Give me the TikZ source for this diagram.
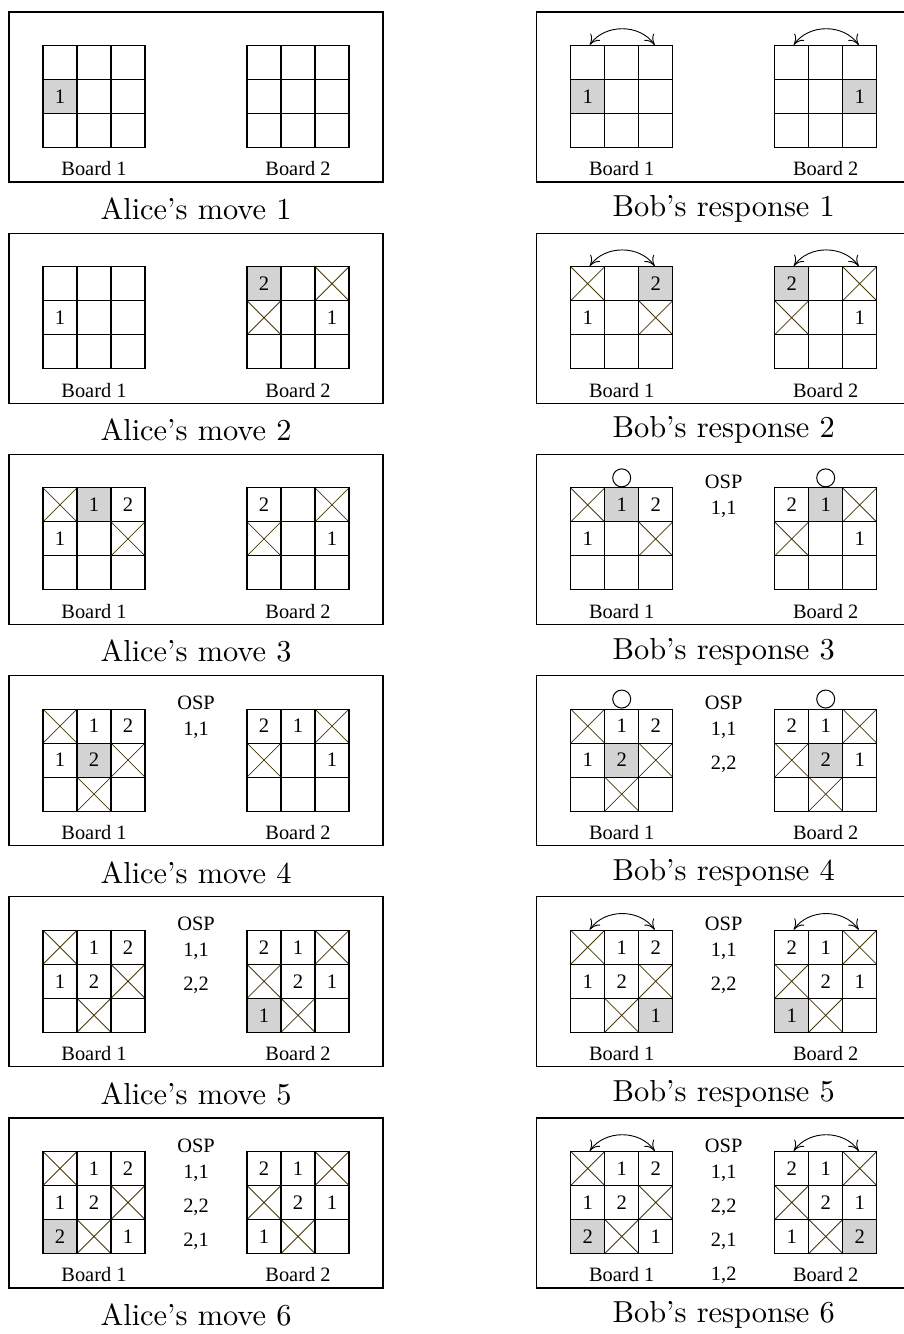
\documentclass[tikz,border=0pt]{standalone}
\usepackage{fontspec}
\setmainfont{Liberation Serif}
\newfontfamily\capfont{lmroman10-regular.otf}
\usetikzlibrary{arrows.meta}
\definecolor{shadegray}{RGB}{211,211,211}
\definecolor{xcol}{RGB}{70,56,8}
\expandafter\def\csname ctxt1\endcsname{1}
\expandafter\def\csname ctxt2\endcsname{2}
\expandafter\def\csname ctxtG1\endcsname{1}
\expandafter\def\csname ctxtG2\endcsname{2}
\tikzset{
  cellbox/.style={draw=black, line width=0.55pt, rectangle, minimum size=17pt, inner sep=0pt, font=\fontsize{10.3}{12}\selectfont},
  cE/.style={}, c1/.style={}, c2/.style={},
  cG1/.style={fill=shadegray}, cG2/.style={fill=shadegray},
  xline/.style={draw=xcol, line width=0.4pt},
  cX/.style={path picture={\draw[xline] (path picture bounding box.north west) -- (path picture bounding box.south east) (path picture bounding box.north east) -- (path picture bounding box.south west);}},
  framebox/.style={draw=black, line width=0.55pt},
  lbl/.style={font=\fontsize{10.2}{12}\selectfont, inner sep=0pt},
  captext/.style={font=\capfont\fontsize{15.2}{18}\selectfont, inner sep=0pt},
  swaparr/.style={line width=0.45pt, {To[length=5pt,width=6pt]}-{To[length=5pt,width=6pt]}},
  ring/.style={circle, draw=black, line width=0.5pt, minimum size=9pt, inner sep=0pt},
}
% board: #1 name, #2 left x, #3 top y, #4 cells
\newcommand{\brd}[4]{%
  \foreach \v [count=\i from 0] in {#4} {
    \pgfmathtruncatemacro\rr{\i/3}
    \pgfmathtruncatemacro\cc{mod(\i,3)}
    \node[cellbox, c\v] (#1-\i) at ({#2+17+34*\cc},{#3+17+34*\rr}) {\csname ctxt\v\endcsname};
  }
}
% panel: #1 id, #2 frame left, #3 frame top, #4 board1, #5 board2, #6 caption
\newcommand{\pnl}[6]{%
  \draw[framebox] (#2,#3) rectangle ++(374,170);
  \brd{#1a}{#2+34}{#3+33.5}{#4}
  \brd{#1b}{#2+238}{#3+33.5}{#5}
  \node[lbl] (#1-la) at (#2+85,#3+157) {Board 1};
  \node[lbl] (#1-lb) at (#2+289,#3+157) {Board 2};
  \node[captext] (#1-cap) at (#2+187,#3+197) {#6};
}
% OSP list: #1 id, #2 frame left, #3 frame top, #4 items
\newcommand{\osp}[4]{%
  \node[lbl] (#1-osp) at (#2+187,#3+27.5) {OSP};
  \foreach \p [count=\k from 0] in {#4} {
    \node[lbl] (#1-osp\k) at (#2+187,#3+55+34*\k) {\p};
  }
}
\newcommand{\swp}[1]{%
  \draw[swaparr] ([xshift=1pt]#1-0.north) .. controls +(7.5pt,10.7pt) and +(-7.5pt,10.7pt) .. ([xshift=-0.5pt]#1-2.north);
}
\newcommand{\rng}[1]{%
  \node[ring, anchor=south] (#1-ring) at (#1-1.north) {};
}
\begin{document}
\begin{tikzpicture}[x=0.5pt,y=-0.5pt]
\useasboundingbox (0,0) rectangle (904,1334);
% row 1
\pnl{A1}{9}{12}{E,E,E,G1,E,E,E,E,E}{E,E,E,E,E,E,E,E,E}{Alice’s move 1}
\pnl{B1}{536.7}{12}{E,E,E,G1,E,E,E,E,E}{E,E,E,E,E,G1,E,E,E}{Bob’s response 1}
\swp{B1a}\swp{B1b}
% row 2
\pnl{A2}{9}{233.2}{E,E,E,1,E,E,E,E,E}{G2,E,X,X,E,1,E,E,E}{Alice’s move 2}
\pnl{B2}{536.7}{233.2}{X,E,G2,1,E,X,E,E,E}{G2,E,X,X,E,1,E,E,E}{Bob’s response 2}
\swp{B2a}\swp{B2b}
% row 3
\pnl{A3}{9}{454.4}{X,G1,2,1,E,X,E,E,E}{2,E,X,X,E,1,E,E,E}{Alice’s move 3}
\pnl{B3}{536.7}{454.4}{X,G1,2,1,E,X,E,E,E}{2,G1,X,X,E,1,E,E,E}{Bob’s response 3}
\osp{B3}{536.7}{454.4}{{1,1}}
\rng{B3a}\rng{B3b}
% row 4
\pnl{A4}{9}{675.6}{X,1,2,1,G2,X,E,X,E}{2,1,X,X,E,1,E,E,E}{Alice’s move 4}
\osp{A4}{9}{675.6}{{1,1}}
\pnl{B4}{536.7}{675.6}{X,1,2,1,G2,X,E,X,E}{2,1,X,X,G2,1,E,X,E}{Bob’s response 4}
\osp{B4}{536.7}{675.6}{{1,1},{2,2}}
\rng{B4a}\rng{B4b}
% row 5
\pnl{A5}{9}{896.8}{X,1,2,1,2,X,E,X,E}{2,1,X,X,2,1,G1,X,E}{Alice’s move 5}
\osp{A5}{9}{896.8}{{1,1},{2,2}}
\pnl{B5}{536.7}{896.8}{X,1,2,1,2,X,E,X,G1}{2,1,X,X,2,1,G1,X,E}{Bob’s response 5}
\osp{B5}{536.7}{896.8}{{1,1},{2,2}}
\swp{B5a}\swp{B5b}
% row 6
\pnl{A6}{9}{1118}{X,1,2,1,2,X,G2,X,1}{2,1,X,X,2,1,1,X,E}{Alice’s move 6}
\osp{A6}{9}{1118}{{1,1},{2,2},{2,1}}
\pnl{B6}{536.7}{1118}{X,1,2,1,2,X,G2,X,1}{2,1,X,X,2,1,1,X,G2}{Bob’s response 6}
\osp{B6}{536.7}{1118}{{1,1},{2,2},{2,1},{1,2}}
\swp{B6a}\swp{B6b}
\end{tikzpicture}
\end{document}
